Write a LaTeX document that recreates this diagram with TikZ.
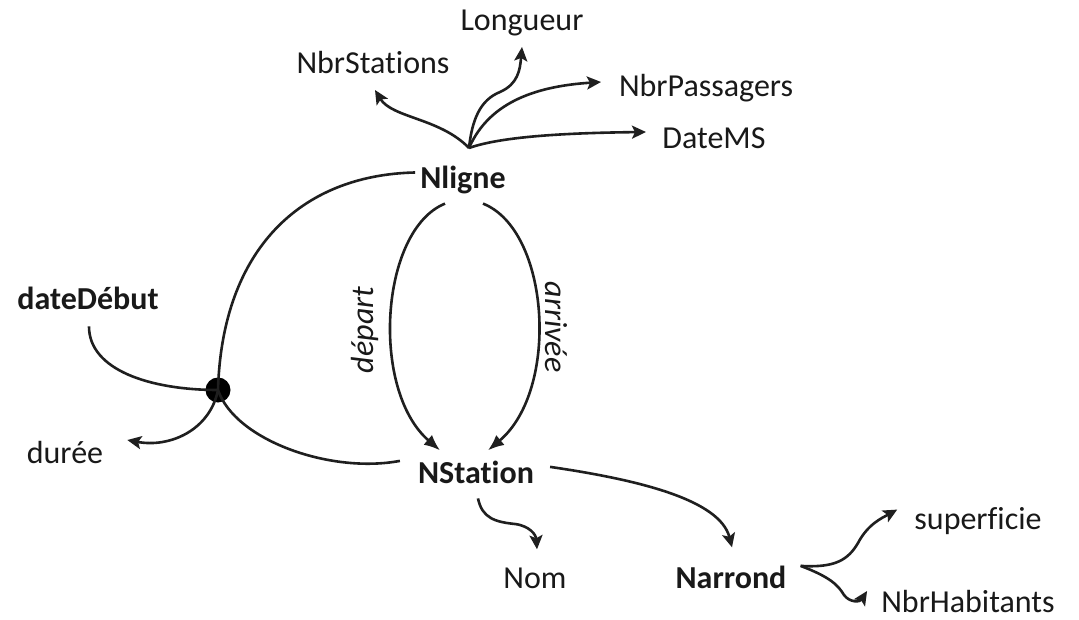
\documentclass[tikz,border=0pt]{standalone}
\usepackage{fontspec}
\setmainfont{Carlito}[Ligatures=NoCommon]
\usetikzlibrary{arrows.meta,calc}
\begin{document}
\begin{tikzpicture}[x=1pt,y=-1pt,
  lbl/.style={font=\fontsize{32}{38}\selectfont, inner sep=0pt, anchor=base, text=black!90},
  blbl/.style={lbl, font=\fontsize{32}{38}\selectfont\bfseries},
  ilbl/.style={lbl, font=\fontsize{32}{38}\selectfont\itshape, anchor=center},
  conn/.style={line width=2.6pt, draw=black!88},
  arr/.style={conn, -{Stealth[length=14pt,width=13pt,inset=3pt]}},
  tri/.style={conn, -{Latex[length=16pt,width=13pt]}},
  dotnode/.style={circle, fill=black, minimum size=25pt, inner sep=0pt}]
\useasboundingbox (0,0) rectangle (1079,620);
\fill[white] (0,0) rectangle (1079,620);

% nodes
\node[lbl]  (lon) at (522,31)  {Longueur};
\node[lbl]  (nbs) at (373,74)  {NbrStations};
\node[lbl]  (nbp) at (706,97)  {NbrPassagers};
\node[lbl]  (dms) at (714,149) {DateMS};
\node[blbl] (nl)  at (463,189) {Nligne};
\node[blbl] (dd)  at (88,310)  {dateDébut};
\node[lbl]  (du)  at (65,463)  {durée};
\node[blbl] (ns)  at (476,483) {NStation};
\node[lbl]  (nom) at (535,588) {Nom};
\node[blbl] (nar) at (731,588) {Narrond};
\node[lbl]  (sup) at (978,529) {superficie};
\node[lbl]  (nbh) at (968,612) {NbrHabitants};
\node[ilbl, rotate=90]  (dep) at (365,330) {départ};
\node[ilbl, rotate=-90] (arv) at (556,327) {arrivée};
\node[dotnode] (dot) at (218,390) {};
\coordinate (o) at (469,148);

% Nligne attributes
\draw[arr] (o) .. controls (440,118) and (392,118) .. (375,90);
\draw[arr] (o) .. controls (472,120) and (480,100) .. (500,92) .. controls (518,84) and (520,70) .. (522,47);
\draw[arr] (o) .. controls (490,100) and (540,86) .. (601,82);
\draw[arr] (o) .. controls (500,137) and (560,133) .. (646,132);

% relation via dot
\draw[conn] ($(nl.west)+(-5,-8)$) .. controls (300,175) and (222,250) .. (dot.center);
\draw[conn] ($(dd.south)+(1,16)$) .. controls (89,370) and (150,390) .. (dot.center);
\draw[arr] (dot.center) .. controls (210,430) and (170,448) .. ($(du.east)+(24,-12)$);
\draw[conn] (dot.center) .. controls (235,440) and (330,474) .. ($(ns.west)+(-18,-11)$);

% depart / arrivee
\draw[tri] ($(nl.south)+(-18,9)$) .. controls (380,230) and (370,390) .. ($(ns.north)+(-36,-10)$);
\draw[tri] ($(nl.south)+(20,9)$) .. controls (550,230) and (560,390) .. ($(ns.north)+(12,-10)$);

% NStation attributes
\draw[arr] ($(ns.east)+(16,-5)$) .. controls (640,480) and (720,500) .. ($(nar.north)+(1,-18)$);
\draw[arr] ($(ns.south)+(2,15)$) .. controls (482,518) and (495,522) .. (515,524) .. controls (530,526) and (536,535) .. ($(nom.north)+(2,-18)$);

% Narrond attributes
\draw[arr] ($(nar.east)+(14,-11)$) .. controls (835,568) and (848,560) .. (858,543) .. controls (868,524) and (882,518) .. ($(sup.west)+(-17,-11)$);
\draw[arr] ($(nar.east)+(14,-11)$) .. controls (830,577) and (838,585) .. (844,595) .. controls (850,603) and (860,602) .. ($(nbh.west)+(-14,-10)$);
\end{tikzpicture}
\end{document}
